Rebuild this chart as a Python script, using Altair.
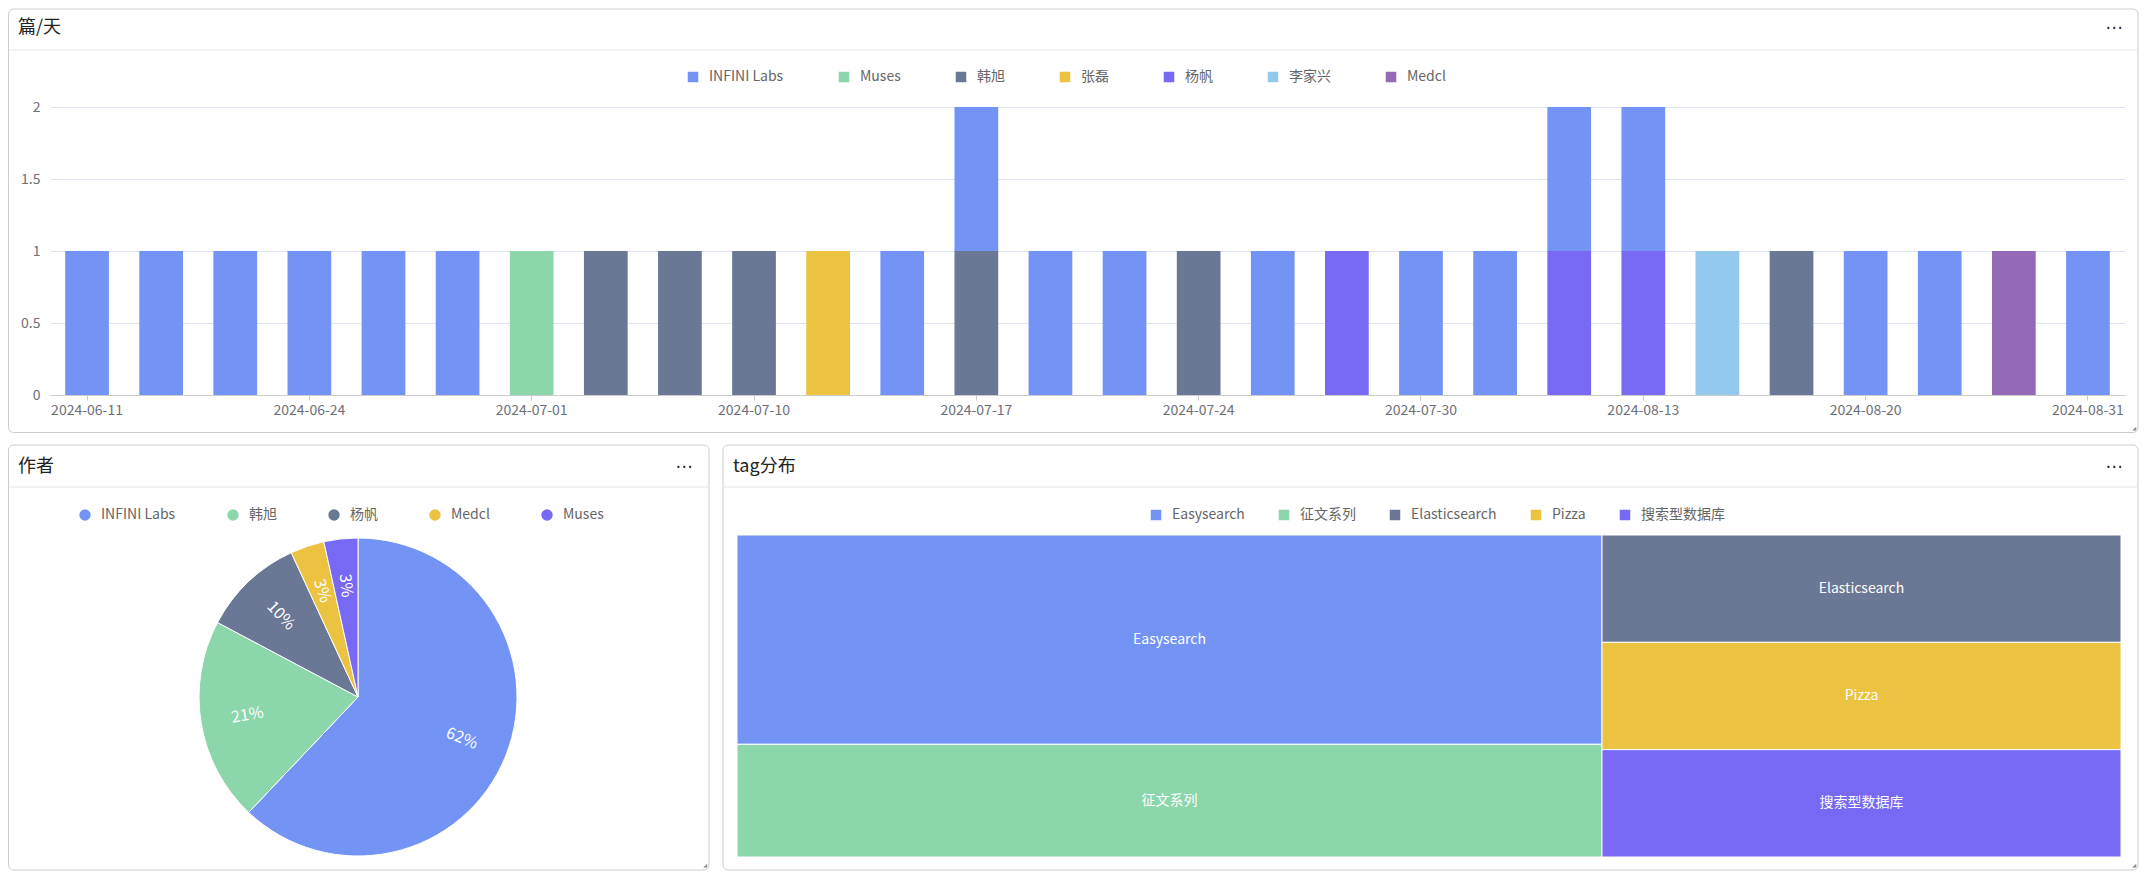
import altair as alt
import pandas as pd

# ---------------- data ----------------
dates = ["2024-06-11", "2024-06-13", "2024-06-19", "2024-06-24", "2024-06-26", "2024-06-28",
         "2024-07-01", "2024-07-03", "2024-07-05", "2024-07-10", "2024-07-12", "2024-07-15",
         "2024-07-17", "2024-07-19", "2024-07-22", "2024-07-24", "2024-07-26", "2024-07-29",
         "2024-07-30", "2024-08-01", "2024-08-06", "2024-08-13", "2024-08-14", "2024-08-16",
         "2024-08-20", "2024-08-22", "2024-08-27", "2024-08-31"]
label_dates = ["2024-06-11", "2024-06-24", "2024-07-01", "2024-07-10", "2024-07-17",
               "2024-07-24", "2024-07-30", "2024-08-13", "2024-08-20", "2024-08-31"]

authors = ["INFINI Labs", "Muses", "韩旭", "张磊", "杨帆", "李家兴", "Medcl"]
infini_labs = [1, 1, 1, 1, 1, 1, 0, 0, 0, 0, 0, 1, 1, 1, 1, 0, 1, 0, 1, 1, 1, 1, 0, 0, 1, 1, 0, 1]
muses       = [0, 0, 0, 0, 0, 0, 1, 0, 0, 0, 0, 0, 0, 0, 0, 0, 0, 0, 0, 0, 0, 0, 0, 0, 0, 0, 0, 0]
hanxu       = [0, 0, 0, 0, 0, 0, 0, 1, 1, 1, 0, 0, 1, 0, 0, 1, 0, 0, 0, 0, 0, 0, 0, 1, 0, 0, 0, 0]
zhanglei    = [0, 0, 0, 0, 0, 0, 0, 0, 0, 0, 1, 0, 0, 0, 0, 0, 0, 0, 0, 0, 0, 0, 0, 0, 0, 0, 0, 0]
yangfan     = [0, 0, 0, 0, 0, 0, 0, 0, 0, 0, 0, 0, 0, 0, 0, 0, 0, 1, 0, 0, 1, 1, 0, 0, 0, 0, 0, 0]
lijiaxing   = [0, 0, 0, 0, 0, 0, 0, 0, 0, 0, 0, 0, 0, 0, 0, 0, 0, 0, 0, 0, 0, 0, 1, 0, 0, 0, 0, 0]
medcl       = [0, 0, 0, 0, 0, 0, 0, 0, 0, 0, 0, 0, 0, 0, 0, 0, 0, 0, 0, 0, 0, 0, 0, 0, 0, 0, 1, 0]
series = [infini_labs, muses, hanxu, zhanglei, yangfan, lijiaxing, medcl]
stack_rank = [9, 1, 0, 2, 0, 3, 4]   # INFINI Labs stacked on top

pie_authors = ["INFINI Labs", "韩旭", "杨帆", "Medcl", "Muses"]
pie_counts = [18, 6, 3, 1, 1]

tags = ["Easysearch", "征文系列", "Elasticsearch", "Pizza", "搜索型数据库"]
tag_counts = [13, 7, 4, 4, 4]
tag_group = [0, 0, 1, 1, 1]

# ---------------- styles ----------------
bar_colors = ["#7394F5", "#8CD6AC", "#6A7795", "#EBC340", "#7769F4", "#92C9EC", "#946AB6"]
pie_colors = ["#7394F5", "#8CD6AC", "#6A7795", "#EBC340", "#7769F4"]
tag_colors = ["#7394F5", "#8CD6AC", "#6A7795", "#EBC340", "#7769F4"]
FONT = "Noto Sans CJK SC"
LABEL = "#6e7079"
BORDER = "#cccccc"
SEP = "#eeeeee"

# ---------------- tables ----------------
rows = []
for a, s, r in zip(authors, series, stack_rank):
    for d, c in zip(dates, s):
        if c:
            rows.append({"date": d, "author": a, "count": c, "rank": r})
df_bar = pd.DataFrame(rows)

df_pie = pd.DataFrame({"author": pie_authors, "count": pie_counts, "idx": list(range(len(pie_authors)))})

total = sum(tag_counts)
gsum = {}
for g, c in zip(tag_group, tag_counts):
    gsum[g] = gsum.get(g, 0) + c
gx0 = {}
acc = 0
for g in sorted(gsum):
    gx0[g] = acc
    acc += gsum[g]
trows = []
ycum = {}
for t, c, g in zip(tags, tag_counts, tag_group):
    y0 = ycum.get(g, 0)
    ycum[g] = y0 + c
    x0 = gx0[g] / total
    x1 = (gx0[g] + gsum[g]) / total
    trows.append({"tag": t, "count": c, "x0": x0, "x1": x1,
                  "y0": y0 / gsum[g], "y1": (y0 + c) / gsum[g]})
df_tree = pd.DataFrame(trows)
df_tree["xm"] = (df_tree["x0"] + df_tree["x1"]) / 2
df_tree["ym"] = (df_tree["y0"] + df_tree["y1"]) / 2

one = pd.DataFrame({"k": [0]})


def panel(x0, x1, y0, y1, sep_y, title, title_x, title_y, dots_x):
    base = alt.Chart(one)
    border = base.mark_rect(fillOpacity=0, stroke=BORDER, strokeWidth=1, cornerRadius=5).encode(
        x=alt.value(x0), x2=alt.value(x1), y=alt.value(y0), y2=alt.value(y1))
    sep = base.mark_rule(color=SEP, strokeWidth=1.5).encode(
        x=alt.value(x0 + 0.5), x2=alt.value(x1 - 0.5), y=alt.value(sep_y))
    ttl = base.mark_text(text=title, align="left", baseline="middle", fontSize=18,
                         color="#222222", font=FONT).encode(x=alt.value(title_x), y=alt.value(title_y))
    dots = base.mark_text(text="⋯", align="center", baseline="middle", fontSize=17,
                          font="DejaVu Sans", color="#222222").encode(
        x=alt.value(dots_x), y=alt.value(title_y))
    grip = base.mark_text(text="◢", align="right", baseline="bottom", fontSize=5,
                          font="DejaVu Sans", color="#888888").encode(
        x=alt.value(x1 - 2), y=alt.value(y1 - 2))
    return [border, sep, ttl, dots, grip]


# ---------------- top: stacked bars ----------------
TW, TH = 2075, 288
bars = alt.Chart(df_bar).mark_bar().encode(
    x=alt.X("date:N", sort=dates,
            scale=alt.Scale(domain=dates, paddingInner=0.41, paddingOuter=0.205),
            axis=alt.Axis(values=label_dates, title=None, labelAngle=0, labelFontSize=14,
                          labelColor=LABEL, domainColor=BORDER, tickColor=BORDER, tickSize=5,
                          labelPadding=3, grid=False)),
    y=alt.Y("count:Q", stack="zero", scale=alt.Scale(domain=[0, 2], nice=False),
            axis=alt.Axis(values=[0, 0.5, 1, 1.5, 2], format="~g", title=None, grid=True,
                          gridColor="#e0e6f1", domain=False, ticks=False, labelPadding=10,
                          labelFontSize=14, labelColor=LABEL)),
    color=alt.Color("author:N", scale=alt.Scale(domain=authors, range=bar_colors),
                    legend=alt.Legend(orient="none", legendX=636, legendY=-37, direction="horizontal",
                                      columns=7, title=None, symbolType="square", symbolSize=110,
                                      labelFontSize=14, labelColor="#666666", columnPadding=53,
                                      labelOffset=9, padding=0, symbolStrokeWidth=0)),
    order=alt.Order("rank:Q", sort="ascending"),
)
top = alt.layer(*panel(-41.5, 2088, -98, 325.5, -57, "篇/天", -32, -79, 2064), bars).properties(
    width=TW, height=TH)

# ---------------- bottom-left: pie ----------------
PW, PH = 659, 322
CX, CY = 308, 162
pie_base = alt.Chart(df_pie).transform_joinaggregate(
    total="sum(count)"
).transform_window(
    cum="sum(count)", sort=[alt.SortField("idx")], frame=[None, 0]
).transform_calculate(
    mid="(datum.cum - datum.count / 2) / datum.total * 360",
    label="round(datum.count / datum.total * 100) + '%'",
).transform_calculate(
    a0="datum.mid - 90 > 90 ? datum.mid - 270 : datum.mid - 90"
).transform_calculate(
    ang="datum.a0 < 0 ? datum.a0 + 360 : datum.a0"
)
arcs = pie_base.mark_arc(radius=159, stroke="white", strokeWidth=1).encode(
    theta=alt.Theta("count:Q", stack=True),
    color=alt.Color("author:N", scale=alt.Scale(domain=pie_authors, range=pie_colors),
                    legend=alt.Legend(orient="none", legendX=28, legendY=-27, direction="horizontal",
                                      columns=5, title=None, symbolType="circle", symbolSize=130,
                                      labelFontSize=14, labelColor="#666666", columnPadding=50,
                                      labelOffset=9, padding=0, symbolStrokeWidth=0)),
    order=alt.Order("idx:Q", sort="ascending"),
    x=alt.value(CX), y=alt.value(CY),
)
pie_text = pie_base.mark_text(radius=112, fontSize=16, color="white", align="center",
                              baseline="middle").encode(
    theta=alt.Theta("count:Q", stack=True),
    order=alt.Order("idx:Q", sort="ascending"),
    text="label:N",
    angle=alt.Angle("ang:Q", scale=None),
    x=alt.value(CX), y=alt.value(CY),
)
pie = alt.layer(*panel(-41.5, 659, -90, 335, -48, "作者", -32, -68, 634), arcs, pie_text).properties(
    width=PW, height=PH)

# ---------------- bottom-right: treemap ----------------
MW, MH = 1384, 322
tx = alt.Scale(domain=[0, 1], nice=False, zero=False)
ty = alt.Scale(domain=[0, 1], nice=False, zero=False, reverse=True)
rects = alt.Chart(df_tree).mark_rect(stroke="white", strokeWidth=1).encode(
    x=alt.X("x0:Q", scale=tx, axis=None), x2="x1:Q",
    y=alt.Y("y0:Q", scale=ty, axis=None), y2="y1:Q",
    color=alt.Color("tag:N", scale=alt.Scale(domain=tags, range=tag_colors),
                    legend=alt.Legend(orient="none", legendX=412, legendY=-27, direction="horizontal",
                                      columns=5, title=None, symbolType="square", symbolSize=110,
                                      labelFontSize=14, labelColor="#666666", columnPadding=32,
                                      labelOffset=9, padding=0, symbolStrokeWidth=0)),
)
tree_text = alt.Chart(df_tree).mark_text(fontSize=14, color="white", align="center",
                                         baseline="middle").encode(
    x=alt.X("xm:Q", scale=tx, axis=None),
    y=alt.Y("ym:Q", scale=ty, axis=None),
    text="tag:N",
)
tree = alt.layer(*panel(-14, 1401, -90, 335, -48, "tag分布", -4, -68, 1377), rects, tree_text).properties(
    width=MW, height=MH)

bottom = alt.hconcat(pie, tree, spacing=28, bounds="flush").resolve_scale(
    color="independent").resolve_legend(color="independent")

chart = alt.vconcat(top, bottom, spacing=140, bounds="flush").resolve_scale(
    color="independent").resolve_legend(color="independent").properties(
    padding=0
).configure(font=FONT).configure_view(strokeWidth=0)

chart.save("out.html", embed_options={"renderer": "svg", "actions": False})
